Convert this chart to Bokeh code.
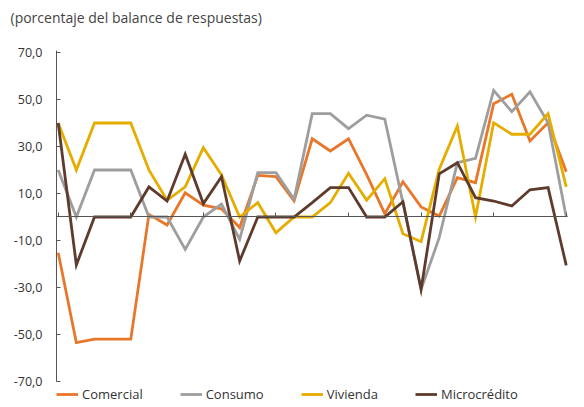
from bokeh.plotting import figure
from bokeh.models import (ColumnDataSource, LinearAxis, FixedTicker, Legend, LegendItem,
                          Range1d)
from bokeh.embed import file_html
from bokeh.resources import INLINE

# ---- data ----
periods = list(range(29))
comercial = [-15.2, -53.5, -52, -52, -52, 1.1, -3.4, 10.3, 5, 3.5, -4.5, 17.7, 17.2, 6.8,
             33.3, 28.1, 33.3, 18, 1.4, 15, 4.3, 0.4, 16.7, 14.6, 48.2, 52.2, 32.3, 40.1, 19.3]
consumo = [20, 0, 20, 20, 20, 0, 0, -13.8, 0, 5.5, -9.5, 18.9, 18.9, 7.5,
           44, 44, 37.6, 43.3, 41.6, 6, -30.8, -8.8, 23.1, 25, 53.9, 44.8, 53.3, 40.1, 0]
vivienda = [40, 20, 40, 40, 40, 20, 7.1, 12.8, 29.5, 17.9, 0, 6.1, -6.7, 0,
            0, 6.1, 18.6, 7.2, 16.3, -7.1, -10.5, 20.3, 38.7, 0, 40.1, 35.2, 35.2, 44, 12.8]
microcredito = [40, -20.4, 0, 0, 0, 12.8, 6.8, 26.7, 5.7, 17.1, -18.7, 0, 0, 0,
                6.1, 12.5, 12.5, 0, 0, 6.5, -30.8, 18.4, 23.1, 8.2, 6.8, 4.7, 11.6, 12.5, -20.6]
series_names = ["Comercial", "Consumo", "Vivienda", "Microcrédito"]
y_ticks = [-70, -50, -30, -10, 10, 30, 50, 70]
x_ticks = [0, 4, 8, 12, 16, 20, 24, 28]
title_text = "(porcentaje del balance de respuestas)"

colors = ["#E8772A", "#9E9E9E", "#E5AD00", "#5E3B2C"]
FONT = "Open Sans"

src = ColumnDataSource(dict(x=periods, comercial=comercial, consumo=consumo,
                            vivienda=vivienda, microcredito=microcredito))

# frame: x 56..571, y 26..403 ; 70 -> px 52, -70 -> px 381
p = figure(width=584, height=407, output_backend="svg", toolbar_location=None,
           x_range=Range1d(-0.094, 28.29), y_range=Range1d(-79.36, 81.06),
           x_axis_location=None, y_axis_location=None,
           min_border_left=56, min_border_right=13, min_border_top=26, min_border_bottom=4)
p.grid.visible = False
p.outline_line_color = None
p.background_fill_color = "white"

p.title.text = title_text
p.title.align = "left"
p.title.offset = -46
p.title.standoff = 0
p.title.vertical_align = "bottom"
p.title.text_font = FONT
p.title.text_font_size = "14px"
p.title.text_font_style = "normal"
p.title.text_color = "#444444"

# y axis
yax = LinearAxis(ticker=FixedTicker(ticks=y_ticks), bounds=(-70, 70.8))
yax.major_label_overrides = {v: f"{v:.1f}".replace(".", ",") for v in y_ticks}
yax.major_tick_in = 4
yax.major_tick_out = 0
yax.minor_tick_in = 0
yax.minor_tick_out = 0
yax.major_label_standoff = 14
yax.axis_line_color = "#555555"
yax.major_tick_line_color = "#555555"
yax.major_label_text_font = FONT
yax.major_label_text_font_size = "12.5px"
yax.major_label_text_color = "#333333"
p.add_layout(yax, "left")

# x axis at zero
xax = LinearAxis(ticker=FixedTicker(ticks=x_ticks), fixed_location=0, bounds=(-0.094, 28.05))
xax.major_tick_in = 4
xax.major_tick_out = 0
xax.minor_tick_in = 0
xax.minor_tick_out = 0
xax.major_label_overrides = {v: " " for v in x_ticks}
xax.major_label_text_font_size = "1px"
xax.major_label_standoff = 0
xax.axis_line_color = "#555555"
xax.major_tick_line_color = "#555555"
p.add_layout(xax, "below")

renderers = []
for col, c in zip(["comercial", "consumo", "vivienda", "microcredito"], colors):
    r = p.line("x", col, source=src, line_color=c, line_width=2.8, line_join="miter")
    renderers.append(r)

items = [LegendItem(label=n, renderers=[r]) for n, r in zip(series_names, renderers)]
lg = Legend(items=items, location=(0, 0), orientation="horizontal",
            padding=0, margin=0, spacing=37,
            glyph_width=22, glyph_height=14, label_height=14, label_standoff=4, label_width=0,
            border_line_alpha=0, background_fill_alpha=0,
            label_text_font=FONT, label_text_font_size="13px", label_text_color="#333333")
p.add_layout(lg, "center")

open("out.html", "w").write(file_html(p, INLINE))
